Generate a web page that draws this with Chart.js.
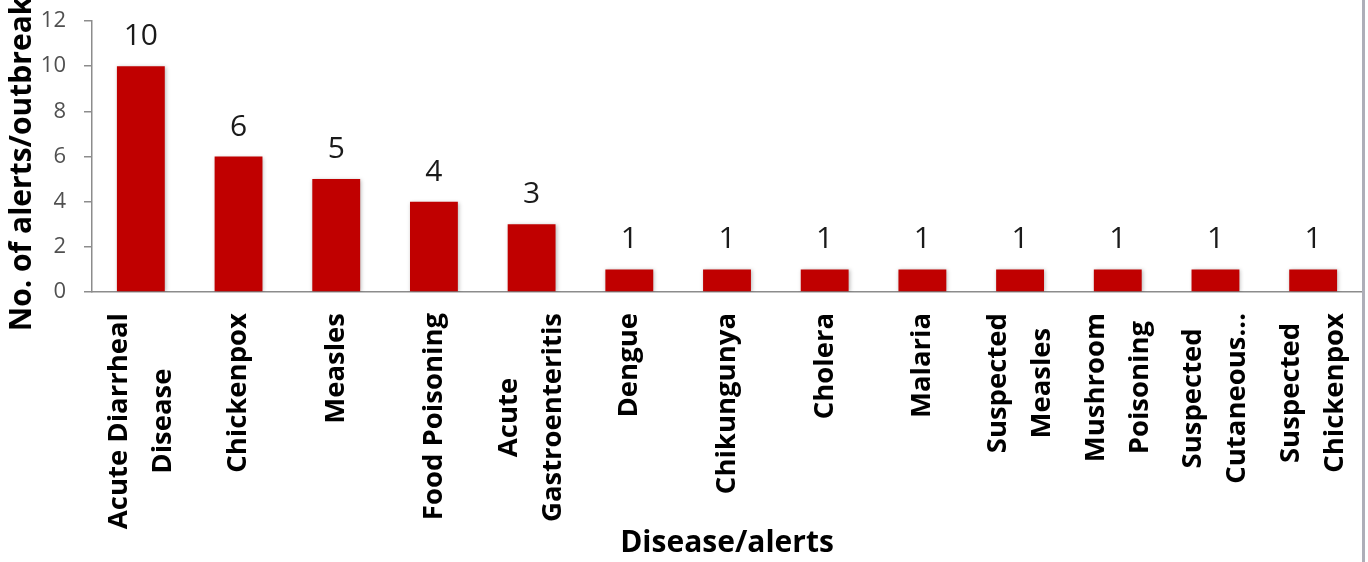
<!DOCTYPE html>
<html>
<head>
<meta charset="utf-8">
<script src="https://cdn.jsdelivr.net/npm/chart.js@4/dist/chart.umd.min.js"></script>
<style>
  html, body { margin: 0; padding: 0; background: #ffffff; }
  #wrap { position: relative; width: 1368px; height: 562px; overflow: hidden; background: #fff; }
  #frame { position: absolute; left: 1362px; top: 0; width: 3px; height: 562px; background: #aeaeb8; }
</style>
</head>
<body>
<div id="wrap">
  <canvas id="c" width="1368" height="562"></canvas>
  <div id="frame"></div>
</div>
<script>
// ---- data ----
const categories = [
  ["Acute Diarrheal", "Disease"],
  ["Chickenpox"],
  ["Measles"],
  ["Food Poisoning"],
  ["Acute", "Gastroenteritis"],
  ["Dengue"],
  ["Chikungunya"],
  ["Cholera"],
  ["Malaria"],
  ["Suspected", "Measles"],
  ["Mushroom", "Poisoning"],
  ["Suspected", "Cutaneous..."],
  ["Suspected", "Chickenpox"]
];
const alertCounts = [10, 6, 5, 4, 3, 1, 1, 1, 1, 1, 1, 1, 1];
const yTicks = [0, 2, 4, 6, 8, 10, 12];
const yTitle = "No. of alerts/outbreaks";
const xTitle = "Disease/alerts";

const FONT = "'Open Sans', 'DejaVu Sans', sans-serif";

// soft shadow behind bars
const barShadow = {
  id: 'barShadow',
  beforeDatasetDraw(chart) {
    const ctx = chart.ctx;
    ctx.save();
    ctx.shadowColor = 'rgba(0,0,0,0.28)';
    ctx.shadowBlur = 4;
    ctx.shadowOffsetX = 1;
    ctx.shadowOffsetY = 1;
  },
  afterDatasetDraw(chart) {
    chart.ctx.restore();
  }
};

// data labels above bars
const valueLabels = {
  id: 'valueLabels',
  afterDatasetsDraw(chart) {
    const ctx = chart.ctx;
    const meta = chart.getDatasetMeta(0);
    ctx.save();
    ctx.font = "30px " + FONT;
    ctx.fillStyle = "#1a1a1a";
    ctx.textAlign = "center";
    ctx.textBaseline = "alphabetic";
    meta.data.forEach((bar, i) => {
      ctx.fillText(String(alertCounts[i]), bar.x, bar.y - 21);
    });
    ctx.restore();
  }
};

// rotated, centred multi-line category labels positioned by the x scale
const catLabels = {
  id: 'catLabels',
  afterDraw(chart) {
    const ctx = chart.ctx;
    const xs = chart.scales.x;
    const lineH = 44;
    ctx.save();
    ctx.font = "bold 27.5px " + FONT;
    ctx.fillStyle = "#000000";
    ctx.textAlign = "center";
    ctx.textBaseline = "middle";
    categories.forEach((lines, i) => {
      const x = xs.getPixelForValue(i);
      const top = xs.top + 21;
      const w = Math.max(...lines.map(l => ctx.measureText(l).width));
      ctx.save();
      ctx.translate(x, top);
      ctx.rotate(-Math.PI / 2);
      lines.forEach((l, k) => {
        const off = (k - (lines.length - 1) / 2) * lineH;
        ctx.fillText(l, -w / 2, off);
      });
      ctx.restore();
    });
    ctx.restore();
  }
};

new Chart(document.getElementById('c'), {
  type: 'bar',
  data: {
    labels: categories.map(l => l.join(' ')),
    datasets: [{
      data: alertCounts,
      backgroundColor: '#C00000',
      borderWidth: 0,
      categoryPercentage: 0.49,
      barPercentage: 1.0
    }]
  },
  options: {
    responsive: false,
    animation: false,
    devicePixelRatio: 1,
    layout: { padding: { top: 21, right: 6, left: 0, bottom: 0 } },
    plugins: { legend: { display: false }, tooltip: { enabled: false } },
    scales: {
      x: {
        offset: true,
        grid: { display: false },
        border: { display: true, color: '#8c8c8c', width: 1.5 },
        ticks: { display: false },
        title: {
          display: true, text: xTitle, color: '#000',
          font: { family: FONT, size: 30, weight: 'bold' },
          padding: { top: 0, bottom: 1 }
        },
        afterFit(scale) { scale.height = 270; }
      },
      y: {
        min: 0, max: 12,
        afterBuildTicks(scale) { scale.ticks = yTicks.map(v => ({ value: v })); },
        grid: { drawOnChartArea: false, drawTicks: true, tickLength: 8, color: '#8c8c8c', lineWidth: 1.5 },
        border: { display: true, color: '#8c8c8c', width: 1.5 },
        ticks: {
          color: '#505050', padding: 18,
          font: { family: FONT, size: 22 }
        },
        title: {
          display: true, text: yTitle, color: '#000',
          font: { family: FONT, size: 30, weight: 'bold' },
          padding: { top: 4, bottom: 0 }
        },
        afterFit(scale) {
          scale.width = 92;
          scale.paddingTop = 0;
          scale.paddingBottom = 0;
        }
      }
    }
  },
  plugins: [barShadow, valueLabels, catLabels]
});
</script>
</body>
</html>
